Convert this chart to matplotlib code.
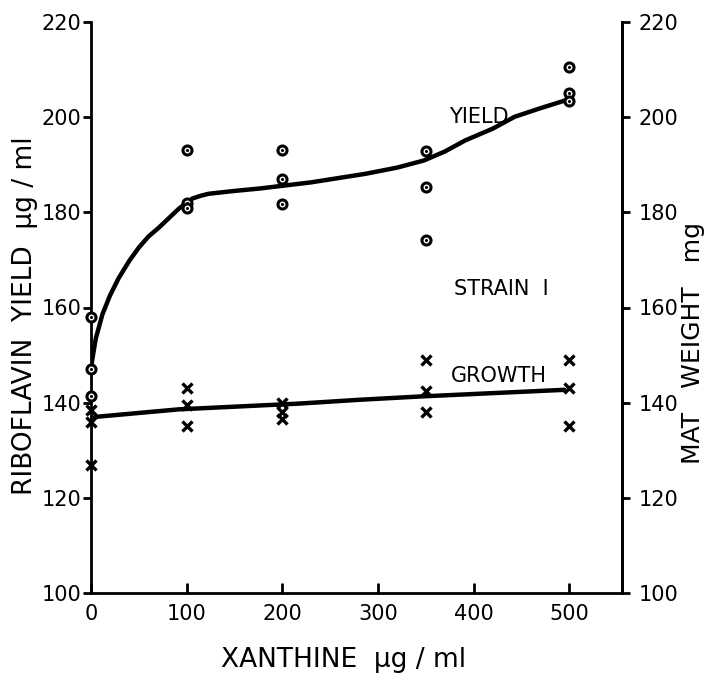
import matplotlib
matplotlib.use("Agg")
import matplotlib.pyplot as plt

# xanthine concentration (ug/ml) for the replicate points
yield_x = [0, 0, 0, 100, 100, 100, 200, 200, 200, 350, 350, 350, 500, 500, 500]
yield_y = [158, 147, 141.5, 193, 182, 181, 193, 187, 181.8, 192.8, 185.4, 174.2, 210.5, 205, 203.5]

growth_x = [0, 0, 0, 100, 100, 100, 200, 200, 200, 350, 350, 350, 500, 500, 500]
growth_y = [138.5, 136, 127, 143, 139.5, 135, 140, 138, 136.5, 149, 142.5, 138, 149, 143, 135]

# hand drawn curves
yield_curve_x = [0, 1.5, 5, 12, 20, 29, 40, 50, 60, 71, 82, 92, 100, 106, 115, 123, 150, 176, 230, 287, 320, 348, 370, 391, 420, 443, 470, 497]
yield_curve_y = [147, 149.3, 153.5, 158.6, 162.6, 166.2, 169.8, 172.6, 174.9, 176.8, 178.9, 180.8, 182.0, 182.9, 183.5, 183.9, 184.5, 185.0, 186.3, 188.1, 189.4, 190.9, 192.8, 195.1, 197.6, 200.1, 201.9, 203.6]

growth_line_x = [4, 92, 217, 280, 344, 495]
growth_line_y = [137.0, 138.6, 139.8, 140.6, 141.3, 142.7]

x_ticks = [0, 100, 200, 300, 400, 500]
y_ticks = [100, 120, 140, 160, 180, 200, 220]

plt.rcParams['font.family'] = ['DejaVu Sans']

fig = plt.figure(figsize=(7.22, 6.78), dpi=100)
ax = fig.add_axes([91 / 722, 1 - 593 / 678, (622 - 91) / 722, (593 - 22) / 678])

ax.plot(yield_curve_x, yield_curve_y, color='black', lw=3.2, solid_capstyle='round', zorder=2)
ax.plot(growth_line_x, growth_line_y, color='black', lw=3.2, solid_capstyle='round', zorder=2)

ax.plot(yield_x, yield_y, ls='none', marker='o', ms=6.5, mfc='white', mec='black', mew=2.2, zorder=3, clip_on=False)
ax.plot(yield_x, yield_y, ls='none', marker='o', ms=1.2, mfc='black', mec='black', zorder=4, clip_on=False)
ax.plot(growth_x, growth_y, ls='none', marker='x', ms=6.5, mec='black', mew=2.4, zorder=3, clip_on=False)

ax.set_xlim(0, 555)
ax.set_ylim(100, 220)
ax.set_xticks(x_ticks)
ax.set_yticks(y_ticks)

for s in ax.spines.values():
    s.set_linewidth(2)
ax.spines['top'].set_visible(False)

ax.tick_params(axis='x', direction='in', length=7, width=2, labelsize=15, pad=8)
ax.tick_params(axis='y', direction='out', length=6, width=2, labelsize=15, pad=1)

ax2 = ax.twinx()
ax2.set_ylim(100, 220)
ax2.set_yticks(y_ticks)
for s in ax2.spines.values():
    s.set_visible(False)
ax2.spines['right'].set_visible(True)
ax2.spines['right'].set_linewidth(2)
ax2.tick_params(axis='y', direction='out', length=6, width=2, labelsize=15, pad=6)

ax.set_xlabel('XANTHINE  µg / ml', fontsize=19)
ax.xaxis.set_label_coords(0.476, -0.094)
ax.set_ylabel('RIBOFLAVIN  YIELD  µg / ml', fontsize=19)
ax.yaxis.set_label_coords(-0.1, 0.486)
ax2.set_ylabel('MAT   WEIGHT   mg', fontsize=18)
ax2.yaxis.set_label_coords(1.112, 0.4375)

ax.text(405, 200, 'YIELD', fontsize=15, ha='center', va='center')
ax.text(429, 163.8, 'STRAIN  I', fontsize=15, ha='center', va='center')
ax.text(426, 145.5, 'GROWTH', fontsize=15, ha='center', va='center')

fig.savefig('out.png', dpi=100)
